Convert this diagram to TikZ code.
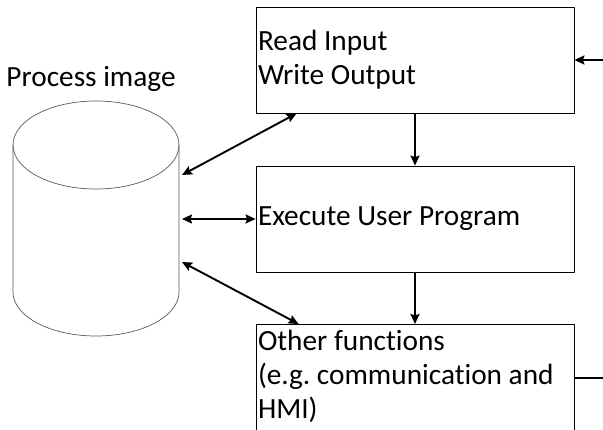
\documentclass[tikz,border=0pt]{standalone}
\usepackage{fontspec}
\setmainfont{Carlito}[RawFeature=-liga]
\usetikzlibrary{arrows.meta}
\tikzset{
	box/.style={draw,line width=0.8pt,minimum width=318pt,text width=314pt,inner xsep=2pt,align=flush left},
	arr/.style={line width=1.9pt,>={Stealth[length=10pt,width=9pt,inset=1.5pt]}},
	cyl/.style={draw=black!65,line width=0.7pt}
}
\begin{document}
\begin{tikzpicture}[x=1pt,y=1pt,font=\fontsize{29.3}{34}\selectfont\frenchspacing,line join=round]
	\useasboundingbox (0,0) rectangle (603,-430);
	\clip (0,0) rectangle (603,-430);
	% process image (cylinder)
	\node[anchor=base] (pimg) at (91,-87) {Process image};
	\draw[cyl] (13,-145) arc[start angle=180,end angle=-180,x radius=83,y radius=44];
	\draw[cyl] (13,-145)--(13,-292) arc[start angle=180,end angle=360,x radius=83,y radius=44]--(179,-145);
	\coordinate (dbE) at (179,-219);
	% cycle blocks
	\node[box,minimum height=106pt] (rw) at (415,-60) {Read Input\\Write Output};
	\node[box,minimum height=106pt] (ex) at (415,-219) {Execute User Program};
	\node[box,anchor=north,inner ysep=6pt,text height=20pt,text depth=100pt] (oth) at (415,-324)
		{Other functions\\(e.g. communication and\\HMI)};
	\draw[arr,->] (rw.south)--(ex.north);
	\draw[arr,->] (ex.south)--(oth.north);
	\draw[arr,<-] (rw.east)--++(30,0);
	\draw[arr] ([yshift=-54pt]oth.north east)--++(30,0);
	% data exchange with the process image
	\draw[arr,<->] ([xshift=3pt,yshift=44pt]dbE)--([xshift=41pt]rw.south west);
	\draw[arr,<->] ([xshift=3pt]dbE)--(ex.west);
	\draw[arr,<->] ([xshift=3pt,yshift=-43pt]dbE)--([xshift=43pt]oth.north west);
\end{tikzpicture}
\end{document}
